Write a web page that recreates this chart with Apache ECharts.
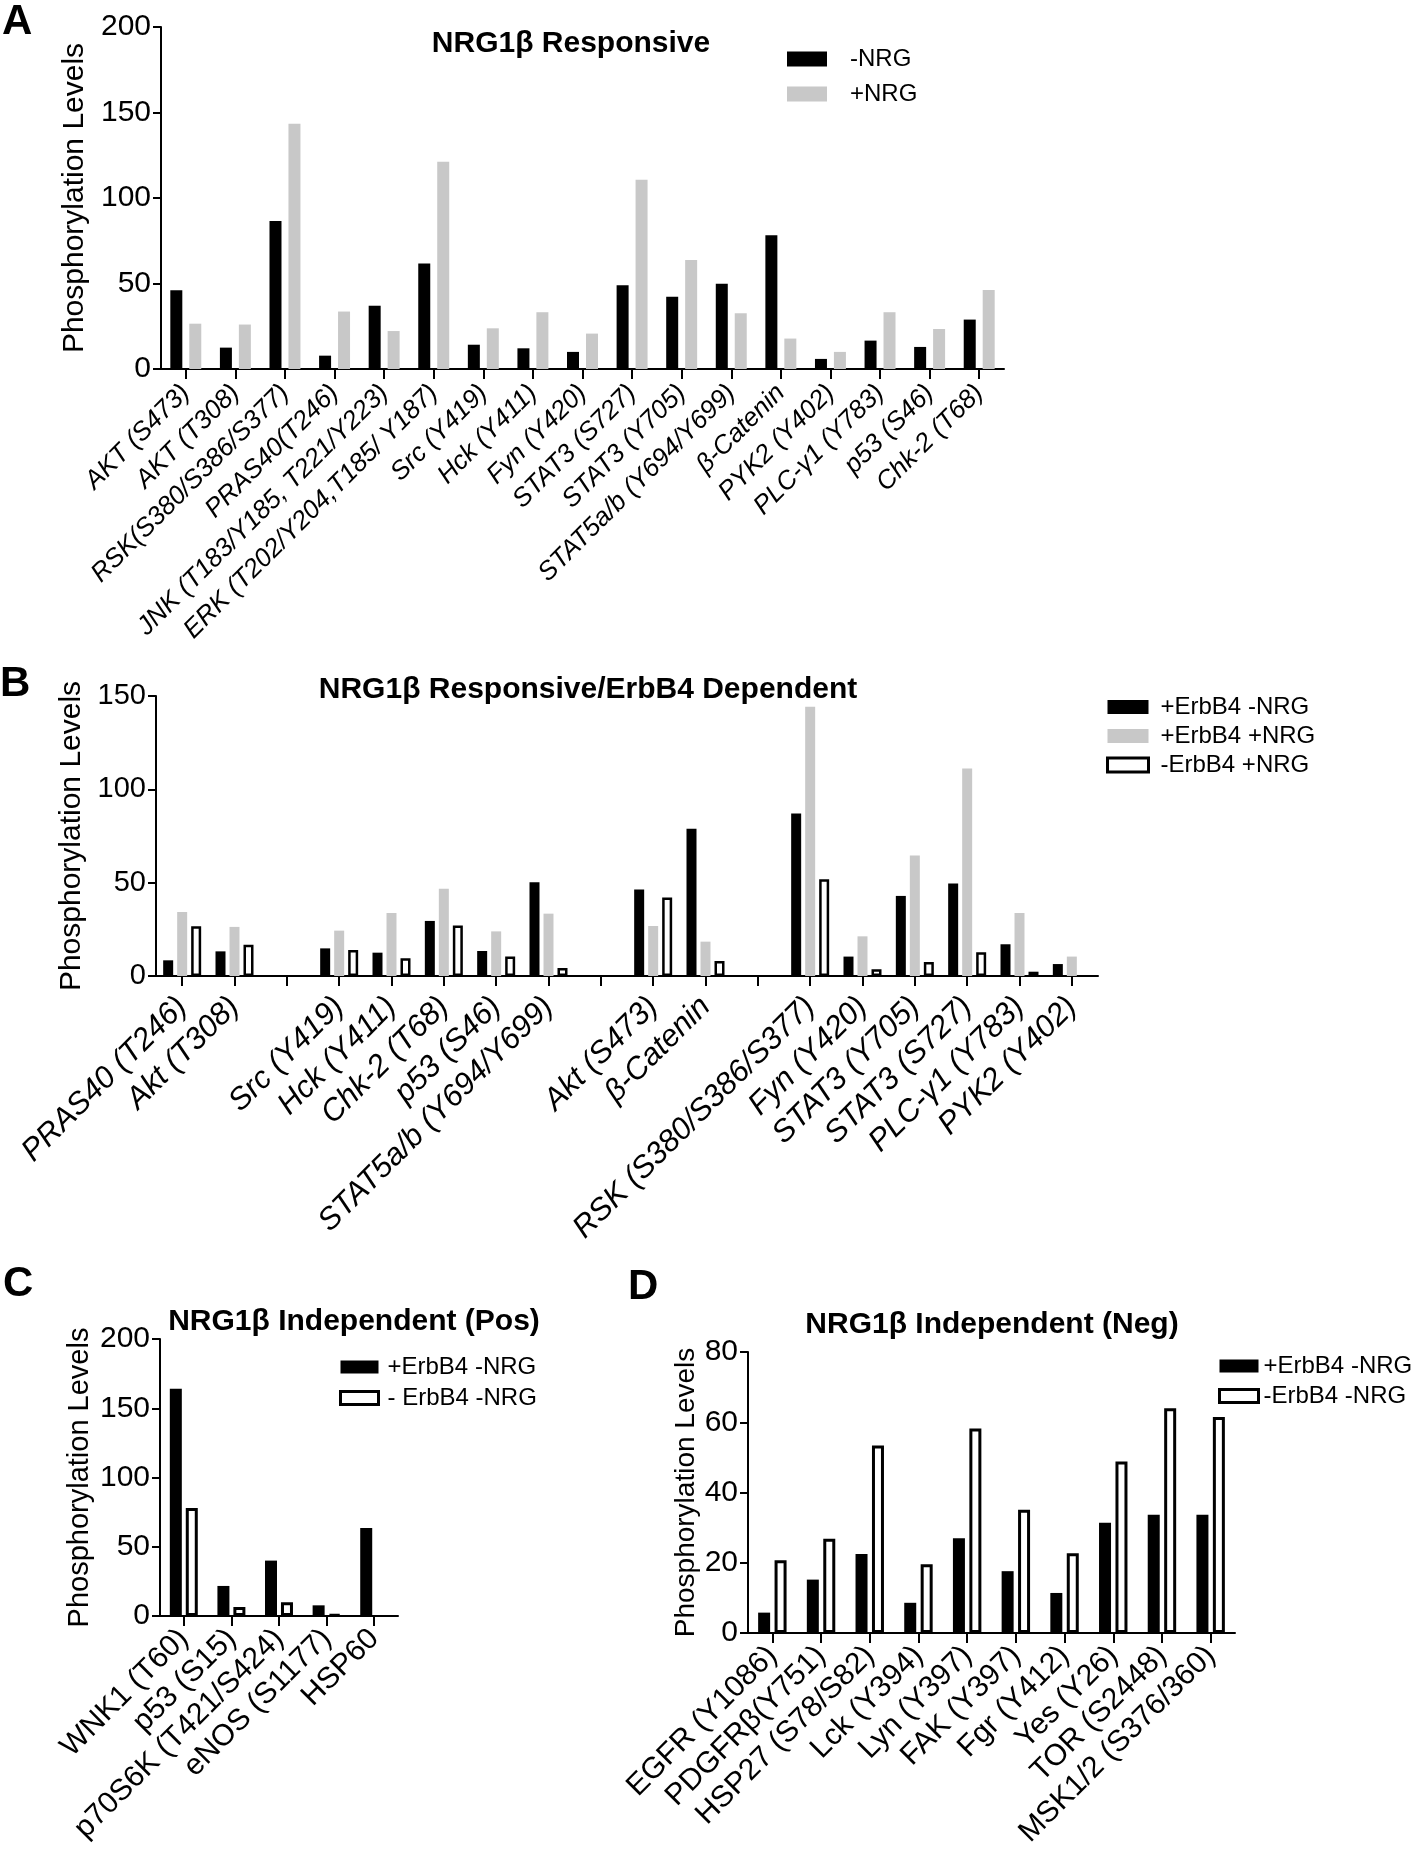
<!DOCTYPE html>
<html><head><meta charset="utf-8">
<script src="https://cdn.jsdelivr.net/npm/echarts@6/dist/echarts.min.js"></script>
<style>html,body{margin:0;padding:0;background:#fff}#c{width:1418px;height:1854px}</style>
</head><body><div id="c"></div>
<script>
const FONT = "'Liberation Sans', Arial, Helvetica, sans-serif";
const GRAY = '#c8c8c8';

// ---- Panel A: NRG1β Responsive ----
const catsA = ['AKT (S473)', 'AKT (T308)', 'RSK(S380/S386/S377)', 'PRAS40(T246)',
  'JNK (T183/Y185, T221/Y223)', 'ERK (T202/Y204,T185/ Y187)', 'Src (Y419)', 'Hck (Y411)',
  'Fyn (Y420)', 'STAT3 (S727)', 'STAT3 (Y705)', 'STAT5a/b (Y694/Y699)', 'β-Catenin',
  'PYK2 (Y402)', 'PLC-γ1 (Y783)', 'p53 (S46)', 'Chk-2 (T68)'];
const aMinusNRG = [46, 12.5, 86.6, 7.8, 37, 61.7, 14.2, 12.1, 10, 49, 42.3, 49.8, 78.2, 5.9, 16.6, 12.9, 28.9];
const aPlusNRG  = [26.5, 26, 143.4, 33.6, 22.2, 121.2, 23.8, 33.2, 20.7, 110.6, 63.8, 32.6, 17.8, 10, 33.2, 23.4, 46.2];

// ---- Panel B: NRG1β Responsive/ErbB4 Dependent ----
const catsB = ['PRAS40 (T246)', 'Akt (T308)', ' ', 'Src (Y419)', 'Hck (Y411)', 'Chk-2 (T68)',
  'p53 (S46)', 'STAT5a/b (Y694/Y699)', '  ', 'Akt (S473)', 'β-Catenin', '   ',
  'RSK (S380/S386/S377)', 'Fyn (Y420)', 'STAT3 (Y705)', 'STAT3 (S727)', 'PLC-γ1 (Y783)', 'PYK2 (Y402)'];
const bErbMinusNRG = [8.4, 13.2, null, 14.8, 12.5, 29.5, 13.4, 50.2, null, 46.4, 78.9, null, 87.1, 10.4, 42.9, 49.6, 17, 6.4];
const bErbPlusNRG  = [34.3, 26.3, null, 24.3, 33.75, 46.8, 23.9, 33.4, null, 26.8, 18.4, null, 144.3, 21.25, 64.5, 111.2, 33.75, 10.4];
const bNoErbPlusNRG = [26.6, 16.8, null, 13.9, 9.5, 27, 10.5, 4.3, null, 42.1, 8, null, 51.8, 3.6, 7.5, 12.7, 2.3, null];

// ---- Panel C: NRG1β Independent (Pos) ----
const catsC = ['WNK1 (T60)', 'p53 (S15)', 'p70S6K (T421/S424)', 'eNOS (S1177)', 'HSP60'];
const cErbMinusNRG = [164, 21.7, 40, 7.7, 63.5];
const cNoErbMinusNRG = [78, 6.5, 10, 1.2, null];

// ---- Panel D: NRG1β Independent (Neg) ----
const catsD = ['EGFR (Y1086)', 'PDGFRβ(Y751)', 'HSP27 (S78/S82)', 'Lck (Y394)', 'Lyn (Y397)',
  'FAK (Y397)', 'Fgr (Y412)', 'Yes (Y26)', 'TOR (S2448)', 'MSK1/2 (S376/360)'];
const dErbMinusNRG = [5.8, 15.2, 22.5, 8.6, 27, 17.6, 11.4, 31.4, 33.7, 33.7];
const dNoErbMinusNRG = [20.7, 26.8, 53.4, 19.6, 58.2, 35.1, 22.7, 48.8, 64, 61.5];

const yTicksA = {min: 0, max: 200, interval: 50};
const yTicksB = {min: 0, max: 150, interval: 50};
const yTicksC = {min: 0, max: 200, interval: 50};
const yTicksD = {min: 0, max: 80, interval: 20};

function xAxis(gi, cats, fontSize, italic, margin) {
  return {
    type: 'category', gridIndex: gi, data: cats, boundaryGap: true,
    axisLine: {show: true, lineStyle: {color: '#000', width: 2}},
    axisTick: {show: true, alignWithLabel: true, interval: 0, length: 10, lineStyle: {color: '#000', width: 2}},
    axisLabel: {interval: 0, rotate: 45, margin: margin, color: '#000', fontFamily: FONT,
      fontSize: fontSize, fontStyle: italic ? 'italic' : 'normal'},
    splitLine: {show: false}
  };
}
function yAxis(gi, t, nameGap, nameSize, labelSize) {
  return {
    type: 'value', gridIndex: gi, min: t.min, max: t.max, interval: t.interval,
    name: 'Phosphorylation Levels', nameLocation: 'middle', nameGap: nameGap,
    nameTextStyle: {fontSize: nameSize, color: '#000', fontFamily: FONT},
    axisLine: {show: true, lineStyle: {color: '#000', width: 2}},
    axisTick: {show: true, length: 8, lineStyle: {color: '#000', width: 2}},
    axisLabel: {margin: 10, fontSize: labelSize, color: '#000', fontFamily: FONT},
    splitLine: {show: false}
  };
}
const solid = c => ({color: c});
const open = w => ({color: '#fff', borderColor: '#000', borderWidth: w});
function legendText(size, pad) {
  return {fontSize: size, color: '#000', fontFamily: FONT, padding: [0, 0, 0, pad]};
}
function ttl(text, x, y, size, bold, align) {
  return {text: text, left: x, top: y, padding: 0, textAlign: align || 'center', textVerticalAlign: 'middle',
    textStyle: {fontSize: size, fontWeight: bold ? 'bold' : 'normal', color: '#000', fontFamily: FONT}};
}

const option = {
  animation: false,
  backgroundColor: '#fff',
  title: [
    ttl('A', 2, 22, 42, true, 'left'),
    ttl('NRG1β Responsive', 571, 44, 30, true),
    ttl('B', 0, 684, 42, true, 'left'),
    ttl('NRG1β Responsive/ErbB4 Dependent', 588, 690, 30, true),
    ttl('C', 3, 1284, 42, true, 'left'),
    ttl('NRG1β Independent (Pos)', 354, 1322, 30, true),
    ttl('D', 628, 1287, 42, true, 'left'),
    ttl('NRG1β Independent (Neg)', 992, 1325, 30, true)
  ],
  legend: [
    {left: 787, top: 47, orient: 'vertical', icon: 'rect', itemWidth: 40, itemHeight: 15, itemGap: 11, padding: 0,
     selectedMode: false, data: ['-NRG', '+NRG'], textStyle: legendText(24, 18)},
    {left: 1106, top: 695, orient: 'vertical', icon: 'rect', itemWidth: 41, itemHeight: 14, itemGap: 5, padding: 0,
     selectedMode: false, data: ['+ErbB4 -NRG', '+ErbB4 +NRG', {name: '-ErbB4 +NRG', itemStyle: open(3)}], textStyle: legendText(24, 7)},
    {left: 339, top: 1355, orient: 'vertical', icon: 'rect', itemWidth: 38, itemHeight: 13, itemGap: 7, padding: 0,
     selectedMode: false, data: [{name: '+ErbB4 -NRG '}, {name: '- ErbB4 -NRG', itemStyle: open(3)}], textStyle: legendText(24, 4)},
    {left: 1218, top: 1354, orient: 'vertical', icon: 'rect', itemWidth: 39, itemHeight: 13, itemGap: 6, padding: 0,
     selectedMode: false, data: [{name: '+ErbB4 -NRG  '}, {name: '-ErbB4 -NRG', itemStyle: open(3)}], textStyle: legendText(24, 0)}
  ],
  grid: [
    {left: 161, top: 27, width: 843, height: 342},
    {left: 156, top: 696, width: 942, height: 280},
    {left: 160, top: 1339, width: 238, height: 277},
    {left: 748, top: 1352, width: 487, height: 281}
  ],
  xAxis: [
    xAxis(0, catsA, 26, true, 20),
    xAxis(1, catsB, 31, true, 26),
    xAxis(2, catsC, 30, false, 18),
    xAxis(3, catsD, 30, false, 18)
  ],
  yAxis: [
    yAxis(0, yTicksA, 63, 30, 30),
    yAxis(1, yTicksB, 58, 30, 29),
    yAxis(2, yTicksC, 66, 29, 30),
    yAxis(3, yTicksD, 46, 28, 30)
  ],
  series: [
    {type: 'bar', name: '-NRG', xAxisIndex: 0, yAxisIndex: 0, data: aMinusNRG, barWidth: 12, barGap: '58%', itemStyle: solid('#000')},
    {type: 'bar', name: '+NRG', xAxisIndex: 0, yAxisIndex: 0, data: aPlusNRG, barWidth: 12, barGap: '58%', itemStyle: solid(GRAY)},

    {type: 'bar', name: '+ErbB4 -NRG', xAxisIndex: 1, yAxisIndex: 1, data: bErbMinusNRG, barWidth: 10, barGap: '40%', itemStyle: solid('#000')},
    {type: 'bar', name: '+ErbB4 +NRG', xAxisIndex: 1, yAxisIndex: 1, data: bErbPlusNRG, barWidth: 10, barGap: '40%', itemStyle: solid(GRAY)},
    {type: 'bar', name: '-ErbB4 +NRG', xAxisIndex: 1, yAxisIndex: 1, data: bNoErbPlusNRG, barWidth: 10, barGap: '40%', itemStyle: open(2.5)},

    {type: 'bar', name: '+ErbB4 -NRG ', xAxisIndex: 2, yAxisIndex: 2, data: cErbMinusNRG, barWidth: 12, barGap: '33%', itemStyle: solid('#000')},
    {type: 'bar', name: '- ErbB4 -NRG', xAxisIndex: 2, yAxisIndex: 2, data: cNoErbMinusNRG, barWidth: 12, barGap: '33%', itemStyle: open(3)},

    {type: 'bar', name: '+ErbB4 -NRG  ', xAxisIndex: 3, yAxisIndex: 3, data: dErbMinusNRG, barWidth: 12, barGap: '37%', itemStyle: solid('#000')},
    {type: 'bar', name: '-ErbB4 -NRG', xAxisIndex: 3, yAxisIndex: 3, data: dNoErbMinusNRG, barWidth: 12, barGap: '37%', itemStyle: open(3)}
  ]
};
const chart = echarts.init(document.getElementById('c'), null, {renderer: 'canvas', width: 1418, height: 1854});
chart.setOption(option);
</script></body></html>
